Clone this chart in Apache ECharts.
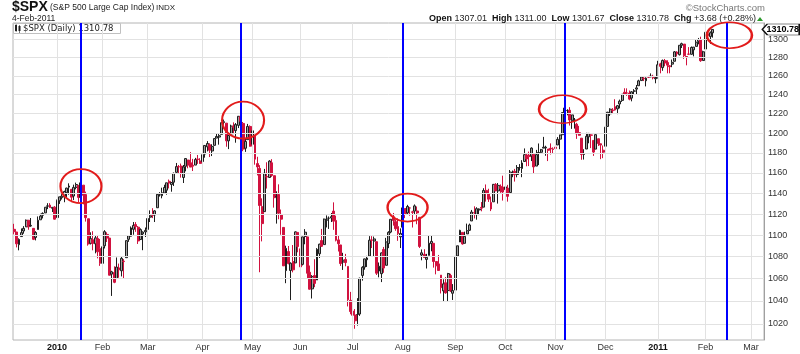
<!DOCTYPE html>
<html>
<head>
<meta charset="utf-8">
<script src="https://cdn.jsdelivr.net/npm/echarts@6/dist/echarts.min.js"></script>
<style>
html, body { margin: 0; padding: 0; background: #fff; }
#main { width: 800px; height: 354px; }
</style>
</head>
<body>
<div id="main"></div>
<script>
// daily candles, one row per trading day: [open, close, low, high]
const dec09 = [[1105.5,1103.3,1100.8,1110.7],[1103.0,1091.9,1088.6,1103.0],[1091.1,1096.0,1085.9,1097.0],[1098.7,1102.4,1098.7,1106.3],[1103.9,1106.4,1101.4,1108.5],[1107.8,1114.1,1107.8,1114.8],[1114.1,1107.9,1105.1,1114.1],[1108.6,1109.2,1107.9,1116.2],[1106.4,1096.1,1095.4,1106.4],[1097.9,1102.5,1095.1,1103.7],[1105.3,1114.1,1105.3,1117.7],[1114.5,1118.0,1114.5,1120.3],[1118.8,1120.6,1115.8,1121.6],[1121.1,1126.5,1121.1,1126.5],[1127.5,1127.8,1124.7,1130.4],[1128.6,1126.2,1125.9,1130.4],[1125.5,1126.4,1121.9,1126.4],[1126.6,1115.1,1114.8,1127.6]];
const jan10 = [[1116.6,1133.0,1116.6,1133.9],[1132.7,1136.5,1129.7,1136.6],[1135.7,1137.1,1133.9,1139.2],[1136.3,1141.7,1131.3,1142.5],[1140.5,1145.0,1136.2,1145.4],[1146.0,1147.0,1138.6,1149.7],[1143.8,1136.2,1131.4,1143.8],[1137.3,1145.7,1133.4,1148.4],[1145.7,1148.5,1143.8,1150.4],[1147.7,1136.0,1131.4,1147.7],[1136.0,1150.2,1135.8,1150.5],[1147.9,1138.0,1129.3,1147.9],[1138.7,1116.5,1112.8,1141.6],[1115.5,1091.8,1090.2,1115.5],[1092.4,1096.8,1091.3,1102.7],[1095.8,1092.2,1085.9,1103.7],[1091.9,1097.5,1083.1,1099.5],[1096.9,1084.5,1078.5,1100.2],[1087.6,1073.9,1071.6,1096.5]];
const feb10 = [[1073.9,1089.2,1073.9,1089.4],[1090.1,1103.3,1087.6,1104.7],[1100.7,1097.3,1093.6,1102.7],[1097.3,1063.1,1063.0,1097.3],[1064.1,1066.2,1044.5,1067.1],[1065.5,1056.7,1055.9,1071.2],[1060.1,1070.5,1060.1,1079.3],[1069.6,1068.1,1060.8,1073.7],[1067.1,1078.5,1062.0,1080.0],[1075.9,1075.5,1060.5,1077.8],[1079.1,1094.9,1079.1,1095.0],[1096.1,1099.5,1093.8,1099.7],[1099.0,1106.8,1098.6,1108.2],[1105.5,1109.2,1100.4,1112.4],[1110.0,1108.0,1103.1,1112.3],[1107.5,1094.6,1091.8,1108.6],[1095.9,1105.2,1095.9,1106.4],[1101.2,1102.9,1086.0,1103.5],[1103.1,1104.5,1098.3,1107.2]];
const mar10 = [[1105.4,1115.7,1105.4,1116.1],[1117.0,1118.3,1112.4,1123.5],[1119.4,1118.8,1116.1,1125.6],[1119.1,1123.0,1112.4,1123.7],[1126.0,1138.7,1126.0,1139.4],[1138.4,1138.5,1136.8,1141.1],[1137.6,1140.5,1135.1,1145.4],[1140.2,1145.6,1140.2,1148.3],[1143.0,1150.2,1138.6,1150.2],[1151.7,1150.0,1144.7,1153.4],[1148.5,1150.5,1141.5,1150.5],[1150.8,1159.5,1147.1,1160.3],[1160.5,1166.2,1159.9,1169.8],[1166.1,1165.8,1159.1,1167.8],[1166.7,1159.9,1155.3,1169.2],[1155.4,1165.8,1150.0,1167.8],[1166.5,1174.2,1161.5,1174.7],[1172.7,1167.7,1164.5,1173.0],[1170.0,1165.7,1165.7,1180.7],[1167.6,1166.6,1161.8,1173.9],[1167.7,1173.2,1167.7,1174.9],[1173.8,1173.3,1168.9,1177.8],[1171.8,1169.4,1169.0,1174.6]];
const apr10 = [[1171.2,1178.1,1170.7,1181.4],[1178.7,1187.4,1175.1,1187.7],[1186.0,1189.4,1181.4,1191.8],[1188.2,1182.5,1175.7,1189.6],[1181.8,1186.4,1176.7,1188.6],[1187.5,1194.4,1187.2,1194.7],[1194.9,1196.5,1194.9,1199.2],[1195.9,1197.3,1188.2,1199.0],[1198.7,1210.7,1198.7,1210.7],[1210.8,1211.7,1208.5,1213.9],[1210.2,1192.1,1186.1,1210.2],[1192.1,1197.5,1183.7,1197.9],[1199.0,1207.2,1199.0,1208.6],[1207.2,1205.9,1198.9,1211.0],[1202.5,1208.7,1190.2,1210.3],[1207.9,1217.3,1205.1,1217.3],[1217.1,1212.1,1211.9,1219.8],[1209.9,1183.7,1181.6,1211.4],[1184.6,1191.4,1180.9,1195.1],[1193.3,1206.8,1193.3,1209.4],[1206.8,1186.7,1186.2,1207.9]];
const may10 = [[1188.6,1202.3,1188.6,1205.1],[1197.5,1173.6,1168.1,1197.5],[1169.2,1165.9,1157.5,1176.0],[1164.4,1128.2,1065.8,1167.6],[1127.0,1110.9,1094.2,1135.1],[1122.3,1159.7,1122.3,1163.9],[1156.4,1155.8,1144.6,1170.5],[1155.4,1171.7,1155.4,1172.6],[1170.0,1157.4,1156.0,1173.6],[1157.2,1135.7,1126.1,1157.2],[1136.5,1136.9,1110.9,1141.9],[1138.8,1120.8,1115.0,1148.7],[1119.6,1115.1,1100.4,1124.3],[1107.3,1071.6,1071.6,1107.3],[1067.3,1087.7,1055.9,1090.2],[1084.8,1073.7,1073.0,1089.9],[1067.4,1074.0,1040.8,1074.8],[1075.5,1068.0,1065.7,1090.8],[1074.3,1103.1,1074.3,1103.5],[1102.6,1089.4,1084.1,1102.6]];
const jun10 = [[1087.3,1070.7,1069.9,1094.8],[1073.0,1098.4,1072.0,1098.6],[1098.8,1102.8,1091.5,1105.7],[1098.4,1064.9,1060.5,1098.4],[1065.8,1050.5,1050.2,1071.9],[1050.8,1062.0,1042.2,1063.2],[1062.8,1055.7,1052.3,1077.7],[1058.8,1086.8,1058.8,1087.9],[1082.7,1091.6,1078.8,1092.0],[1095.0,1089.6,1089.0,1105.9],[1091.2,1115.2,1091.2,1115.6],[1114.0,1114.6,1107.3,1118.7],[1116.0,1116.0,1105.9,1117.7],[1116.2,1117.5,1112.4,1121.0],[1122.8,1113.2,1105.0,1131.2],[1113.9,1095.3,1094.2,1118.5],[1095.6,1092.0,1084.8,1099.6],[1090.9,1073.7,1071.5,1090.9],[1075.1,1076.8,1067.9,1083.6],[1077.5,1074.6,1071.2,1082.6],[1071.1,1041.2,1035.2,1071.1],[1040.6,1030.7,1028.3,1048.1]];
const jul10 = [[1031.1,1027.4,1010.9,1033.6],[1027.7,1022.6,1015.7,1032.9],[1028.1,1028.1,1018.4,1042.5],[1028.5,1060.3,1026.9,1060.9],[1062.9,1070.3,1058.2,1071.3],[1070.5,1078.0,1068.1,1078.2],[1077.2,1078.8,1070.6,1080.8],[1080.7,1095.3,1080.7,1099.1],[1095.6,1095.2,1088.0,1099.1],[1094.5,1096.5,1080.5,1098.7],[1093.9,1064.9,1063.3,1093.9],[1066.9,1071.3,1061.2,1074.7],[1064.5,1083.5,1056.9,1083.9],[1086.7,1069.6,1065.3,1089.0],[1072.1,1093.7,1072.1,1097.5],[1092.2,1102.7,1087.9,1103.7],[1102.9,1115.0,1101.8,1115.0],[1117.4,1113.8,1109.0,1121.0],[1112.8,1106.1,1104.1,1114.7],[1108.1,1101.5,1094.7,1115.9],[1098.4,1101.6,1088.0,1106.4]];
const aug10 = [[1107.5,1125.9,1107.5,1127.3],[1125.3,1120.5,1116.1,1125.4],[1121.1,1127.2,1119.5,1128.8],[1125.8,1125.8,1118.4,1126.6],[1122.1,1121.6,1107.2,1123.1],[1122.8,1127.8,1119.9,1129.2],[1122.9,1121.1,1110.3,1127.2],[1116.9,1089.5,1088.0,1116.9],[1081.5,1083.6,1076.7,1086.7],[1082.2,1079.3,1079.0,1086.9],[1077.5,1079.4,1069.2,1082.6],[1081.2,1092.5,1081.2,1100.1],[1092.1,1094.2,1085.0,1099.8],[1092.4,1075.6,1070.0,1092.4],[1075.6,1071.7,1063.9,1075.6],[1073.4,1067.4,1067.1,1081.6],[1063.2,1051.9,1046.7,1063.2],[1049.0,1055.3,1039.7,1059.4],[1056.3,1047.2,1046.5,1061.5],[1049.3,1064.6,1039.7,1065.2],[1062.9,1048.9,1048.1,1064.4],[1046.9,1049.3,1040.9,1055.1]];
const sep10 = [[1049.7,1080.3,1049.7,1081.3],[1080.7,1090.1,1080.7,1090.1],[1093.6,1104.5,1093.6,1105.1],[1102.6,1091.8,1091.2,1102.6],[1092.4,1098.9,1092.4,1103.3],[1101.2,1104.2,1101.2,1110.9],[1104.6,1109.6,1103.9,1110.9],[1113.4,1121.9,1113.4,1123.9],[1121.2,1121.1,1115.8,1127.4],[1119.4,1125.1,1114.6,1126.5],[1123.9,1124.7,1118.9,1125.4],[1126.4,1125.6,1122.6,1131.5],[1126.6,1142.7,1126.6,1144.9],[1142.8,1139.8,1131.9,1148.6],[1139.5,1134.3,1131.6,1144.4],[1131.1,1124.8,1122.8,1136.8],[1131.7,1148.7,1131.7,1148.9],[1148.6,1142.2,1142.2,1149.9],[1142.3,1147.7,1130.0,1150.0],[1146.7,1144.7,1140.4,1148.6],[1146.0,1141.2,1132.9,1157.2]];
const oct10 = [[1143.5,1146.2,1139.2,1150.3],[1145.0,1137.0,1131.9,1148.2],[1140.7,1160.8,1140.7,1162.8],[1159.8,1160.0,1155.7,1162.3],[1161.6,1158.1,1151.4,1163.9],[1158.4,1165.2,1155.6,1167.7],[1165.3,1165.3,1162.2,1168.7],[1164.3,1169.8,1155.7,1172.6],[1171.3,1178.1,1171.3,1184.4],[1177.8,1173.8,1166.5,1178.9],[1177.5,1176.2,1166.7,1181.2],[1176.8,1184.7,1171.7,1185.5],[1178.6,1165.9,1159.7,1178.6],[1166.7,1178.2,1166.7,1182.9],[1179.8,1180.3,1167.7,1189.4],[1180.5,1183.1,1178.8,1183.9],[1184.7,1185.6,1184.7,1196.1],[1184.9,1185.6,1177.0,1187.1],[1183.8,1182.5,1171.7,1183.8],[1184.5,1183.8,1178.3,1189.5],[1183.9,1183.3,1179.7,1185.5]];
const nov10 = [[1185.7,1184.4,1177.7,1195.8],[1187.9,1193.6,1187.9,1195.9],[1193.8,1198.0,1183.6,1198.3],[1198.3,1221.1,1198.3,1221.3],[1221.2,1225.9,1221.2,1227.1],[1223.2,1223.3,1218.3,1224.6],[1223.6,1213.4,1207.7,1226.8],[1213.1,1218.7,1204.3,1218.8],[1213.0,1213.5,1204.6,1215.5],[1209.1,1199.2,1194.1,1210.5],[1200.4,1197.8,1197.3,1207.4],[1194.8,1178.3,1173.0,1194.8],[1178.3,1178.6,1173.2,1183.6],[1183.8,1196.7,1183.8,1200.3],[1196.1,1199.7,1189.6,1200.0],[1198.1,1197.8,1184.7,1198.9],[1192.5,1180.7,1176.9,1192.5],[1183.7,1198.4,1183.7,1198.6],[1194.2,1189.4,1186.9,1194.2],[1189.1,1187.8,1173.6,1189.1],[1182.6,1180.6,1174.6,1187.4]];
const dec10 = [[1186.6,1206.1,1186.6,1207.6],[1206.8,1221.5,1206.8,1221.9],[1219.9,1224.7,1217.6,1225.6],[1223.9,1223.1,1220.4,1225.8],[1227.3,1223.8,1223.2,1235.1],[1225.0,1228.3,1219.5,1228.9],[1230.1,1233.0,1225.5,1234.7],[1233.9,1240.4,1232.3,1240.4],[1242.5,1240.5,1239.9,1246.7],[1241.8,1241.6,1238.7,1246.6],[1241.6,1235.2,1234.0,1244.3],[1236.3,1242.9,1232.9,1243.7],[1243.6,1243.9,1240.5,1245.8],[1245.8,1247.1,1240.3,1250.2],[1249.4,1254.6,1249.4,1255.8],[1254.9,1258.8,1254.9,1259.4],[1257.5,1256.8,1254.4,1258.6],[1254.7,1257.5,1248.7,1258.4],[1259.1,1258.5,1257.6,1259.9],[1258.8,1259.8,1258.8,1262.6],[1259.4,1257.9,1256.2,1261.1],[1256.8,1257.6,1252.0,1259.3]];
const jan11 = [[1257.6,1271.9,1257.6,1276.2],[1272.9,1270.2,1262.7,1274.1],[1268.8,1276.6,1265.4,1277.6],[1276.3,1273.9,1270.3,1278.2],[1274.4,1271.5,1262.7,1276.8],[1270.8,1269.8,1262.7,1271.5],[1272.6,1274.5,1269.3,1277.6],[1275.7,1286.0,1275.7,1286.9],[1285.8,1283.8,1280.9,1286.7],[1282.9,1293.2,1282.0,1293.2],[1293.2,1295.0,1290.2,1296.1],[1294.5,1281.9,1278.3,1294.6],[1280.9,1280.3,1271.3,1281.0],[1283.6,1283.4,1282.5,1291.2],[1283.3,1290.8,1282.9,1291.9],[1288.2,1291.2,1281.1,1291.3],[1292.0,1296.6,1292.0,1299.7],[1297.5,1299.5,1294.3,1301.3],[1299.6,1276.3,1275.1,1302.7],[1276.5,1286.1,1276.5,1287.2]];
const feb11 = [[1289.1,1307.6,1289.1,1308.4],[1305.9,1304.0,1302.6,1307.6],[1302.8,1307.1,1294.8,1308.6],[1307.01,1310.78,1301.67,1311.00]];

const holidays = ['2009-12-25','2010-01-01','2010-01-18','2010-02-15','2010-04-02','2010-05-31','2010-07-05','2010-09-06','2010-11-25','2010-12-24','2011-01-17','2011-02-21'];
const yTicks = [1020,1040,1060,1080,1100,1120,1140,1160,1180,1200,1220,1240,1260,1280,1300];
const cycleDates = ['2010-01-19','2010-04-26','2010-08-02','2010-11-05','2011-02-14'];
// red rings: [date, price, width, height]
const rings = [['2010-01-19',1146.9,41,34],['2010-04-27',1213.3,42,37],['2010-08-04',1126.2,40,28],['2010-11-04',1224.7,47,28],['2011-02-15',1304.4,45,26]];
const monthNames = ['Jan','Feb','Mar','Apr','May','Jun','Jul','Aug','Sep','Oct','Nov','Dec'];
const lastClose = 1310.78;

const candles = [].concat(dec09, jan10, feb10, mar10, apr10, may10, jun10, jul10, aug10, sep10, oct10, nov10, dec10, jan11, feb11);

// trading days from 7-Dec-2009 through 8-Mar-2011
const dates = [];
for (let t = Date.UTC(2009, 11, 7); t <= Date.UTC(2011, 2, 8); t += 864e5) {
    const d = new Date(t);
    const wd = d.getUTCDay();
    const s = d.toISOString().slice(0, 10);
    if (wd > 0 && wd < 6 && holidays.indexOf(s) < 0) dates.push(s);
}
const monthStarts = {};
for (let i = 1; i < dates.length; i++) {
    if (dates[i].slice(0, 7) !== dates[i - 1].slice(0, 7)) monthStarts[i] = true;
}

const font = "'Liberation Sans', Arial, sans-serif";
const ellipse = 'path://M0,50 A50,50 0 1,1 100,50 A50,50 0 1,1 0,50 Z';

const chart = echarts.init(document.getElementById('main'));
chart.setOption({
    animation: false,
    backgroundColor: '#fff',
    textStyle: { fontFamily: font },
    grid: { left: 13, right: 36, top: 23, bottom: 14, show: true, borderColor: '#b4b4b4', borderWidth: 1 },
    xAxis: {
        type: 'category',
        data: dates,
        boundaryGap: true,
        axisLine: { show: false },
        axisTick: { show: false },
        splitLine: { show: false },
        axisLabel: {
            interval: function (i) { return !!monthStarts[i]; },
            margin: 3,
            fontSize: 9,
            color: '#333',
            formatter: function (v) {
                const m = +v.slice(5, 7);
                return m === 1 ? '{y|' + v.slice(0, 4) + '}' : monthNames[m - 1];
            },
            rich: { y: { fontWeight: 'bold', fontSize: 9, color: '#111' } }
        }
    },
    yAxis: {
        type: 'log',
        logBase: 10,
        position: 'right',
        min: 1006,
        max: 1318,
        axisLine: { show: true, lineStyle: { color: '#a0a0a0' } },
        axisTick: { show: false },
        axisLabel: { show: false },
        splitLine: { show: false }
    },
    graphic: [
        { type: 'text', left: 12, top: 0, style: { text: '$SPX', font: 'bold 14px ' + font, fill: '#111' } },
        { type: 'text', left: 50, top: 3, style: { text: '(S&P 500 Large Cap Index)', font: '8.5px ' + font, fill: '#222' } },
        { type: 'text', left: 156, top: 4, style: { text: 'INDX', font: '8px ' + font, fill: '#222' } },
        { type: 'text', left: 12, top: 14, style: { text: '4-Feb-2011', font: '8.5px ' + font, fill: '#222' } },
        { type: 'text', right: 35, top: 3, style: { text: '\u00a9StockCharts.com', font: '9.5px ' + font, fill: '#777' } },
        {
            type: 'text', right: 44, top: 14,
            style: {
                text: '{b|Open} 1307.01  {b|High} 1311.00  {b|Low} 1301.67  {b|Close} 1310.78  {b|Chg} +3.68 (+0.28%)',
                font: '9px ' + font, fill: '#222',
                rich: { b: { fontWeight: 'bold', fontSize: 9, fill: '#111' } }
            }
        },
        { type: 'polygon', shape: { points: [[757, 21], [763, 21], [760, 17]] }, style: { fill: '#2a9a2a' } },
        { type: 'rect', z: 2, shape: { x: 13.5, y: 23.5, width: 107, height: 10 }, style: { fill: '#fff', stroke: '#c0c0c0' } },
        { type: 'rect', z: 3, shape: { x: 15, y: 25, width: 2, height: 6 }, style: { fill: '#222' } },
        { type: 'rect', z: 3, shape: { x: 18.5, y: 26, width: 2, height: 5 }, style: { fill: '#222' } },
        { type: 'rect', z: 3, shape: { x: 15.8, y: 24, width: 0.6, height: 8 }, style: { fill: '#222' } },
        { type: 'rect', z: 3, shape: { x: 19.2, y: 25, width: 0.6, height: 8 }, style: { fill: '#222' } },
        { type: 'text', z: 3, left: 23, top: 24, style: { text: '$SPX (Daily) 1310.78', font: '8.5px DejaVu Sans', fill: '#222' } }
    ],
    series: [
        {
            // grid lines and price labels
            type: 'line',
            data: [],
            z: 1,
            silent: true,
            markLine: {
                silent: true,
                symbol: 'none',
                animation: false,
                lineStyle: { color: '#e2e2e2', width: 1, type: 'solid' },
                data: yTicks.map(function (v) {
                    return {
                        yAxis: v,
                        label: { show: true, position: 'end', distance: 4, formatter: String(v), color: '#333', fontSize: 9, fontFamily: font }
                    };
                }).concat(Object.keys(monthStarts).map(function (i) {
                    return { xAxis: dates[i], label: { show: false } };
                }))
            }
        },
        {
            type: 'candlestick',
            z: 3,
            data: candles,
            barWidth: 2.4,
            itemStyle: {
                color: '#a0a0a0',
                color0: '#d1123f',
                borderColor: '#1e1e1e',
                borderColor0: '#d1123f',
                borderWidth: 1
            },
            markLine: {
                silent: true,
                symbol: 'none',
                animation: false,
                label: { show: false },
                lineStyle: { color: '#0000ff', width: 2, type: 'solid' },
                data: cycleDates.map(function (d) { return { xAxis: d }; })
            },
            markPoint: {
                silent: true,
                animation: false,
                data: rings.map(function (r) {
                    return {
                        coord: [r[0], r[1]],
                        symbol: ellipse,
                        symbolSize: [r[2], r[3]],
                        itemStyle: { color: 'rgba(0,0,0,0)', borderColor: '#e21b1b', borderWidth: 2 },
                        label: { show: false }
                    };
                }).concat([{
                    coord: [dates[dates.length - 1], lastClose],
                    symbol: 'path://M0,6 L5,0 L37,0 L37,12 L5,12 Z',
                    symbolSize: [37, 11],
                    symbolOffset: [18, 0],
                    itemStyle: { color: '#fff', borderColor: '#111', borderWidth: 1 },
                    label: {
                        show: true, position: 'inside', offset: [2, 0],
                        formatter: '1310.78', fontWeight: 'bold', fontSize: 9, color: '#000', fontFamily: font
                    }
                }])
            }
        }
    ]
});
</script>
</body>
</html>
